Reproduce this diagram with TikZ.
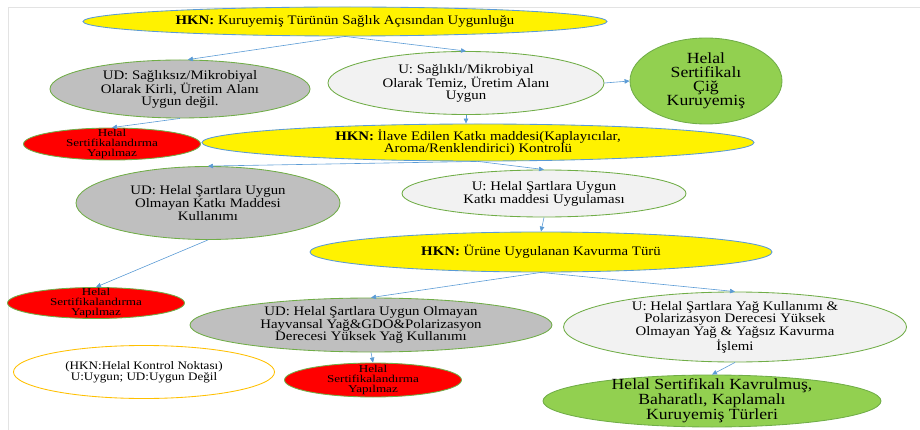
\documentclass[tikz,border=0pt]{standalone}
\usepackage{fontspec}
\setmainfont{Liberation Serif}[FakeStretch=1.14]
\newfontfamily\redf{Liberation Serif}[FakeStretch=1.25]
\usetikzlibrary{shapes.geometric,arrows.meta}
\definecolor{bluebd}{HTML}{5B9BD5}
\definecolor{greenbd}{HTML}{70AD47}
\definecolor{grayfill}{HTML}{BFBFBF}
\definecolor{lightfill}{HTML}{F2F2F2}
\definecolor{greenfill}{HTML}{92D050}
\definecolor{redfill}{HTML}{FF0000}
\definecolor{legbd}{HTML}{FFC000}
\definecolor{framegray}{HTML}{E3E3E3}
\tikzset{
  el/.style={ellipse, draw, line width=0.85pt, inner sep=0pt},
  ylw/.style={el, fill=yellow, draw=bluebd},
  gry/.style={el, fill=grayfill, draw=greenbd},
  lgt/.style={el, fill=lightfill, draw=greenbd},
  redel/.style={el, fill=redfill, draw=greenbd},
  grn/.style={el, fill=greenfill, draw=greenbd},
  leg/.style={el, fill=white, draw=legbd},
  txt/.style={align=center, inner sep=0pt, font=\fontsize{13}{11.5}\selectfont},
  bigtxt/.style={align=center, inner sep=0pt, font=\fontsize{15.5}{14}\selectfont},
  redtxt/.style={align=center, inner sep=0pt, font=\redf\fontsize{10.5}{9.6}\selectfont},
  legtxt/.style={align=center, inner sep=0pt, font=\fontsize{11.5}{10.5}\selectfont},
  arr/.style={draw=bluebd, line width=0.6pt, -{Triangle[length=5pt,width=4.5pt]}}
}
\begin{document}
\begin{tikzpicture}[x=1pt,y=-1pt]
\useasboundingbox (0,0) rectangle (920,430);
\draw[framegray, line width=0.6pt] (8,430) -- (8,7) -- (920,7);

% row 1
\node[ylw, minimum width=524pt, minimum height=29pt] (y1) at (345,21.5) {};
\node[txt] (y1t) at (y1) {\textbf{HKN:} Kuruyemiş Türünün Sağlık Açısından Uygunluğu};

\node[gry, minimum width=260pt, minimum height=58pt] (ud1) at (180,89) {};
\node[txt] (ud1t) at (ud1) {UD: Sağlıksız/Mikrobiyal\\Olarak Kirli, Üretim Alanı\\Uygun değil.};

\node[lgt, minimum width=276pt, minimum height=63pt] (u1) at (466,83) {};
\node[txt] (u1t) at (u1) {U: Sağlıklı/Mikrobiyal\\Olarak Temiz, Üretim Alanı\\Uygun};

\node[grn, minimum width=152pt, minimum height=86pt] (g1) at (706,81) {};
\node[bigtxt] (g1t) at (g1) {Helal\\Sertifikalı\\Çiğ\\Kuruyemiş};

\node[redel, minimum width=177pt, minimum height=32pt] (r1) at (112,144) {};
\node[redtxt] (r1t) at (r1) {Helal\\Sertifikalandırma\\Yapılmaz};

\node[ylw, minimum width=552pt, minimum height=37pt] (y2) at (478,142.5) {};
\node[txt] (y2t) at (y2) {\textbf{HKN:} İlave Edilen Katkı maddesi(Kaplayıcılar,\\Aroma/Renklendirici) Kontrolü};

% row 3
\node[gry, minimum width=264pt, minimum height=73pt] (ud2) at (208,203) {};
\node[txt] (ud2t) at (ud2) {UD: Helal Şartlara Uygun\\Olmayan Katkı Maddesi\\Kullanımı};

\node[lgt, minimum width=284pt, minimum height=47pt] (u2) at (544,193.5) {};
\node[txt] (u2t) at (u2) {U: Helal Şartlara Uygun\\Katkı maddesi Uygulaması};

\node[ylw, minimum width=462pt, minimum height=40pt] (y3) at (541,252) {};
\node[txt] (y3t) at (y3) {\textbf{HKN:} Ürüne Uygulanan Kavurma Türü};

% bottom rows
\node[redel, minimum width=177pt, minimum height=31pt] (r2) at (96,303) {};
\node[redtxt] (r2t) at (r2) {Helal\\Sertifikalandırma\\Yapılmaz};

\node[gry, minimum width=362pt, minimum height=54pt] (ud3) at (371,325) {};
\node[txt] (ud3t) at (ud3) {UD: Helal Şartlara Uygun Olmayan\\Hayvansal Yağ\&GDO\&Polarizasyon\\Derecesi Yüksek Yağ Kullanımı};

\node[lgt, minimum width=343pt, minimum height=70pt] (u3) at (735,327) {};
\node[txt] (u3t) at (u3) {U: Helal Şartlara Yağ Kullanımı \&\\Polarizasyon Derecesi Yüksek\\Olmayan Yağ \& Yağsız Kavurma\\İşlemi};

\node[leg, minimum width=261pt, minimum height=53pt] (lg) at (144,372) {};
\node[legtxt] (lgt) at (lg) {(HKN:Helal Kontrol Noktası)\\U:Uygun; UD:Uygun Değil};

\node[redel, minimum width=177pt, minimum height=34pt] (r3) at (373,380) {};
\node[redtxt] (r3t) at (r3) {Helal\\Sertifikalandırma\\Yapılmaz};

\node[grn, minimum width=338pt, minimum height=52pt] (g2) at (712,401) {};
\node[bigtxt] (g2t) at (g2) {Helal Sertifikalı Kavrulmuş,\\Baharatlı, Kaplamalı\\Kuruyemiş Türleri};

% connectors
\draw[arr] (y1.south) -- (ud1.75);
\draw[arr] (y1.south) -- (u1.north);
\draw[arr] (u1.east) -- (g1.west);
\draw[arr] (ud1.south) -- (r1.north);
\draw[arr] (u1.south) -- (u1.south |- y2.north);
\draw[arr] (y2.south) -- (ud2.north);
\draw[arr] (y2.south) -- (u2.north);
\draw[arr] (ud2.south) -- (r2.north);
\draw[arr] (u2.south) -- (y3.north);
\draw[arr] (y3.south) -- (ud3.north);
\draw[arr] (y3.south) -- (u3.north);
\draw[arr] (ud3.south) -- (r3.north);
\draw[arr] (u3.south) -- (g2.north);
\end{tikzpicture}
\end{document}
